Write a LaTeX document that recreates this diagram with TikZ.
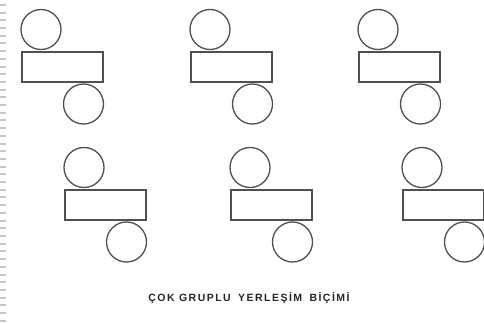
\documentclass[tikz,border=0pt]{standalone}
\usepackage{tikz}
\usetikzlibrary{positioning, calc}
\usepackage{fontspec}
\setmainfont{Liberation Sans}
\newfontfamily\capfont[LetterSpace=14]{Liberation Sans}
\usepackage{xcolor}
\definecolor{seatline}{HTML}{505050}
\definecolor{edgegray}{HTML}{C8C8C8}

\begin{document}
\begin{tikzpicture}[x=1pt, y=-1pt,
    desk/.style={draw=seatline, line width=1.3pt, rectangle, minimum width=81pt, minimum height=30pt, inner sep=0pt},
    seat/.style={draw=seatline, line width=1.3pt, circle, minimum size=40pt, inner sep=0pt}]
        \useasboundingbox (0,0) rectangle (484,323);
        \draw[edgegray, line width=6pt, dash pattern=on 2pt off 5.7pt] (3,4) -- (3,323);
        % masa gruplari
        \foreach \n/\x/\y in {1/62.5/67, 2/231.5/67, 3/399.5/67, 4/105.5/205, 5/271.5/205, 6/443.5/205} {
          \node[desk] (r\n) at (\x,\y) {};
          \node[seat] (t\n) at ($(r\n)+(-21.5,-37.5)$) {};
          \node[seat] (b\n) at ($(r\n)+(21,37)$) {};
        }
        \node[font=\capfont\bfseries\fontsize{10.5}{12}\selectfont, text=black!85] (title) at (249,298) {ÇOK GRUPLU\hspace{3pt} YERLEŞİM\hspace{3pt} BİÇİMİ};
      \end{tikzpicture}
\end{document}
